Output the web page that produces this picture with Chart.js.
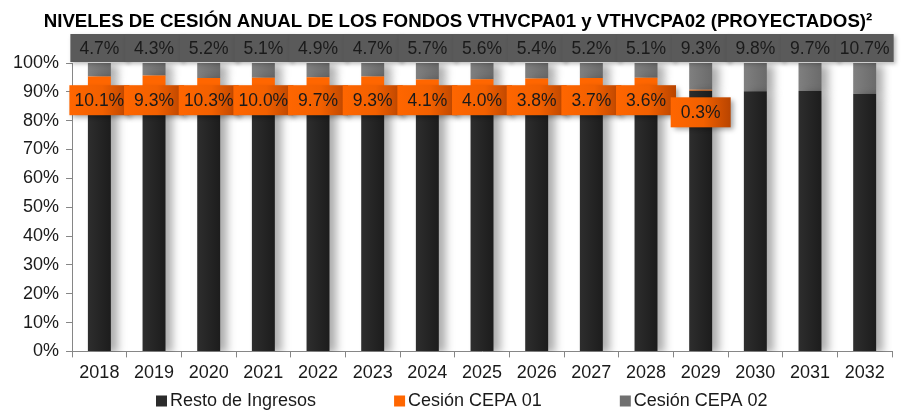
<!DOCTYPE html>
<html lang="es">
<head>
<meta charset="UTF-8" />
<title>Niveles de cesión anual</title>
<script src="https://cdn.jsdelivr.net/npm/chart.js"></script>
<style>
  html, body { margin: 0; padding: 0; background: #fff; }
  #wrap { width: 908px; height: 414px; }
</style>
</head>
<body>
<div id="wrap"><canvas id="chart"></canvas></div>
<script>
  const years = ['2018', '2019', '2020', '2021', '2022', '2023', '2024', '2025',
                 '2026', '2027', '2028', '2029', '2030', '2031', '2032'];
  const restoIngresos = [85.2, 86.4, 84.5, 84.9, 85.4, 86.0, 90.2, 90.4, 90.8, 91.1, 91.3, 90.4, 90.2, 90.3, 89.3];
  const cesionCepa01 = [10.1, 9.3, 10.3, 10.0, 9.7, 9.3, 4.1, 4.0, 3.8, 3.7, 3.6, 0.3, 0, 0, 0];
  const cesionCepa02 = [4.7, 4.3, 5.2, 5.1, 4.9, 4.7, 5.7, 5.6, 5.4, 5.2, 5.1, 9.3, 9.8, 9.7, 10.7];

  const chartTitle = 'NIVELES DE CESIÓN ANUAL DE LOS FONDOS VTHVCPA01 y VTHVCPA02 (PROYECTADOS)²';
  const FONT = 'Arial, "Liberation Sans", sans-serif';
  const legendColors = ['#2b2b2b', '#ff6600', '#707070'];

  function barGradient(c, from, to) {
    const chart = c.chart;
    if (!chart.chartArea || c.type !== 'data') return from;
    const x = chart.scales.x.getPixelForValue(c.dataIndex);
    const g = chart.ctx.createLinearGradient(x - 12, 0, x + 12, 0);
    g.addColorStop(0, from);
    g.addColorStop(1, to);
    return g;
  }

  // soft shadow to the right of the bars
  const barShadow = {
    id: 'barShadow',
    beforeDatasetDraw(chart) {
      const ctx = chart.ctx;
      ctx.save();
      ctx.shadowColor = 'rgba(0,0,0,0.32)';
      ctx.shadowBlur = 9;
      ctx.shadowOffsetX = 7;
      ctx.shadowOffsetY = 2;
    },
    afterDatasetDraw(chart) {
      chart.ctx.restore();
    }
  };

  // boxed data labels
  const boxLabels = {
    id: 'boxLabels',
    afterDatasetsDraw(chart, args, opts) {
      const ctx = chart.ctx;
      const x = chart.scales.x, y = chart.scales.y;
      ctx.save();
      ctx.font = '17.5px ' + FONT;
      ctx.textAlign = 'center';
      ctx.textBaseline = 'middle';

      // CEPA 02 labels along the top
      const yTop = y.getPixelForValue(opts.topLevel);
      cesionCepa02.forEach((v, i) => {
        const cx = x.getPixelForValue(i);
        ctx.shadowColor = 'rgba(0,0,0,0.25)';
        ctx.shadowBlur = 4;
        ctx.shadowOffsetX = 2;
        ctx.shadowOffsetY = 2;
        ctx.fillStyle = '#5a5a5a';
        ctx.fillRect(cx - 29, yTop - 14, 58, 28);
        ctx.shadowColor = 'transparent';
        ctx.fillStyle = '#1a1a1a';
        ctx.fillText(v.toFixed(1) + '%', cx, yTop + 1);
      });

      // CEPA 01 labels
      cesionCepa01.forEach((v, i) => {
        if (!v) return;
        const cx = x.getPixelForValue(i);
        const cy = y.getPixelForValue(i === 11 ? opts.lowLevel : opts.midLevel);
        const g = ctx.createLinearGradient(cx - 30, 0, cx + 30, 0);
        g.addColorStop(0, '#ff6600');
        g.addColorStop(0.55, '#f26000');
        g.addColorStop(1, '#b84400');
        ctx.shadowColor = 'rgba(0,0,0,0.35)';
        ctx.shadowBlur = 5;
        ctx.shadowOffsetX = 3;
        ctx.shadowOffsetY = 3;
        ctx.fillStyle = g;
        ctx.fillRect(cx - 30, cy - 15, 60, 30);
        ctx.shadowColor = 'transparent';
        ctx.fillStyle = '#1a1a1a';
        ctx.fillText(v.toFixed(1) + '%', cx, cy + 1);
      });
      ctx.restore();
    }
  };

  // title and one-row legend with wide gaps
  const frameText = {
    id: 'frameText',
    afterDraw(chart, args, opts) {
      const ctx = chart.ctx;
      ctx.save();
      ctx.font = 'bold 18.7px ' + FONT;
      ctx.fillStyle = '#000';
      ctx.textAlign = 'center';
      ctx.textBaseline = 'middle';
      ctx.fillText(chartTitle, opts.titleX, opts.titleY);

      ctx.font = '18px ' + FONT;
      ctx.textAlign = 'left';
      let xPos = opts.legendX;
      chart.data.datasets.forEach((d, i) => {
        ctx.fillStyle = legendColors[i];
        ctx.fillRect(xPos, opts.legendY - 5.5, 11, 11);
        ctx.fillStyle = '#1a1a1a';
        ctx.fillText(d.label, xPos + 14, opts.legendY);
        xPos += 14 + ctx.measureText(d.label).width + opts.legendGap;
      });
      ctx.restore();
    }
  };

  new Chart(document.getElementById('chart'), {
    type: 'bar',
    data: {
      labels: years,
      datasets: [
        {
          label: 'Resto de Ingresos',
          data: restoIngresos,
          backgroundColor: c => barGradient(c, '#2e2e2e', '#1c1c1c'),
          barPercentage: 0.42,
          categoryPercentage: 1
        },
        {
          label: 'Cesión CEPA 01',
          data: cesionCepa01,
          backgroundColor: '#ff6600',
          barPercentage: 0.42,
          categoryPercentage: 1
        },
        {
          label: 'Cesión CEPA 02',
          data: cesionCepa02,
          backgroundColor: c => barGradient(c, '#808080', '#6a6a6a'),
          barPercentage: 0.42,
          categoryPercentage: 1
        }
      ]
    },
    options: {
      responsive: true,
      maintainAspectRatio: false,
      animation: false,
      layout: { padding: { left: 6, right: 16, top: 63, bottom: 25 } },
      plugins: {
        title: { display: false },
        legend: { display: false },
        tooltip: { enabled: false },
        boxLabels: { topLevel: 105.2, midLevel: 87.1, lowLevel: 82.9 },
        frameText: { titleX: 458, titleY: 21.5, legendX: 156, legendY: 401, legendGap: 78 }
      },
      scales: {
        x: {
          stacked: true,
          grid: { display: true, drawOnChartArea: false, color: '#868686', tickLength: 6, offset: true },
          border: { color: '#868686' },
          ticks: { color: '#1a1a1a', font: { family: FONT, size: 18 }, padding: 5 }
        },
        y: {
          stacked: true,
          min: 0,
          max: 100,
          grid: { display: true, drawOnChartArea: false, color: '#868686', tickLength: 6 },
          border: { color: '#868686' },
          ticks: {
            stepSize: 10,
            autoSkip: false,
            color: '#1a1a1a',
            font: { family: FONT, size: 18 },
            padding: 7,
            callback: v => v + '%'
          }
        }
      }
    },
    plugins: [barShadow, boxLabels, frameText]
  });
</script>
</body>
</html>
